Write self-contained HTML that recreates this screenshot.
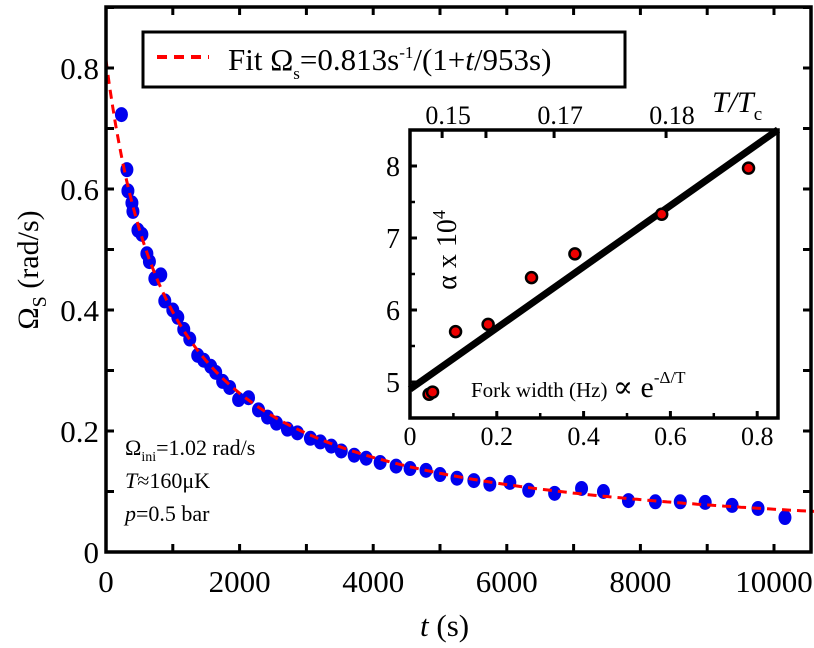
<!DOCTYPE html>
<html><head><meta charset="utf-8"><style>
html,body{margin:0;padding:0;background:#fff;font-family:'Liberation Serif','Times New Roman',Times,'DejaVu Serif',serif;}
svg{display:block;font-family:'Liberation Serif','Times New Roman',Times,'DejaVu Serif',serif;}
text,tspan{font-family:'Liberation Serif','Times New Roman',Times,'DejaVu Serif',serif;}
</style></head><body>
<svg id="chart" width="814" height="648" viewBox="0 0 814 648" xmlns="http://www.w3.org/2000/svg" font-family="Liberation Serif">
<g id="main"></g>
<g id="inset"></g>
</svg>
<script>
const tVals=[231,313,328,388,403,478,537,612,650,731,820,880,1000,1075,1164,1254,1373,1463,1567,1642,1746,1851,1985,2134,2283,2418,2552,2716,2866,3060,3209,3373,3522,3716,3895,4104,4343,4552,4791,5000,5254,5507,5746,6045,6328,6716,7119,7447,7821,8224,8597,8970,9373,9761,10164];
const omegaVals=[0.723,0.632,0.597,0.577,0.563,0.532,0.525,0.493,0.48,0.452,0.458,0.415,0.40,0.388,0.368,0.352,0.325,0.317,0.307,0.297,0.282,0.272,0.252,0.255,0.235,0.223,0.213,0.203,0.197,0.188,0.182,0.175,0.167,0.16,0.155,0.148,0.142,0.138,0.135,0.128,0.122,0.118,0.112,0.115,0.102,0.097,0.105,0.10,0.085,0.083,0.083,0.082,0.077,0.072,0.057];
const xTicks=[0,2000,4000,6000,8000,10000];
const yTicks=[0,0.2,0.4,0.6,0.8];
const fitA=0.813, fitTau=953;
const forkX=[0.044,0.052,0.105,0.18,0.28,0.38,0.58,0.78];
const alphaVals=[4.83,4.86,5.7,5.8,6.45,6.78,7.33,7.97];
const lineIntercept=4.9, lineSlope=4.25;
const insetXTicks=[0,0.2,0.4,0.6,0.8];
const insetYTicks=[5,6,7,8];
const topTickLabels=["0.15","0.17","0.18"];
const topTickPos=[0.074,0.332,0.59];
const topMinorPos=[0.175];

const NS="http://www.w3.org/2000/svg";
function mk(tag,attrs,parent,text){const e=document.createElementNS(NS,tag);for(const k in attrs)e.setAttribute(k,attrs[k]);if(tag==='text')e.setAttribute('font-family','Liberation Serif');if(text!==undefined)e.textContent=text;parent.appendChild(e);return e;}
const main=document.getElementById('main');


const L=106,R=811,T=7,B=552;
const sx=t=>L+t*0.0668;
const sy=v=>B-v*605;
let d="";
for(let t=0;t<=10600;t+=50){d+=(t?"L":"M")+sx(t).toFixed(1)+","+sy(fitA/(1+t/fitTau)).toFixed(1);}
tVals.forEach((t,i)=>{const c=mk('ellipse',{cx:sx(t),cy:sy(omegaVals[i]),rx:6.5,ry:7.5,fill:'#0000ee'},main);

});
const fit=mk('path',{d:d,fill:'none',stroke:'#ff0000','stroke-width':3,'stroke-dasharray':'9,6'},main);


for(let t=0;t<=10000;t+=1000){const x=sx(t);mk('line',{x1:x,y1:B,x2:x,y2:B-8,stroke:'#000','stroke-width':3},main);mk('line',{x1:x,y1:T,x2:x,y2:T+8,stroke:'#000','stroke-width':3},main);}
for(let v=0;v<=0.9;v+=0.1){const y=sy(v);mk('line',{x1:L,y1:y,x2:L+8,y2:y,stroke:'#000','stroke-width':3},main);mk('line',{x1:R,y1:y,x2:R-8,y2:y,stroke:'#000','stroke-width':3},main);}
xTicks.forEach(t=>{const e=mk('text',{x:sx(t),y:592,'font-size':31,'text-anchor':'middle'},main,String(t));

});
yTicks.forEach(v=>{const e=mk('text',{x:L-7,y:sy(v)+11,'font-size':31,'text-anchor':'end'},main,v===0?"0":v.toFixed(1));

});
const frame=mk('rect',{x:L,y:T,width:R-L,height:B-T,fill:'none',stroke:'#000','stroke-width':3.5},main);



const ins=document.getElementById('inset');


const iL=410,iR=778,iT=130,iB=418;
const ix=f=>iL+f*434;
const iy=a=>382-(a-5)*72;
mk('rect',{x:iL,y:iT,width:iR-iL,height:iB-iT,fill:'#fff',stroke:'none'},ins);
insetXTicks.forEach(f=>{mk('line',{x1:ix(f),y1:iB,x2:ix(f),y2:iB-7,stroke:'#000','stroke-width':3},ins);
const e=mk('text',{x:ix(f),y:445,'font-size':26,'text-anchor':'middle'},ins,f===0?"0":f.toFixed(1));

});
[0.1,0.3,0.5,0.7].forEach(f=>mk('line',{x1:ix(f),y1:iB,x2:ix(f),y2:iB-5,stroke:'#000','stroke-width':2.5},ins));
insetYTicks.forEach(a=>{mk('line',{x1:iL,y1:iy(a),x2:iL+7,y2:iy(a),stroke:'#000','stroke-width':3},ins);
const e=mk('text',{x:iL-10,y:iy(a)+10,'font-size':28,'text-anchor':'end'},ins,String(a));

});
[5.5,6.5,7.5].forEach(a=>mk('line',{x1:iL,y1:iy(a),x2:iL+5,y2:iy(a),stroke:'#000','stroke-width':2.5},ins));
topTickPos.concat(topMinorPos).forEach(f=>mk('line',{x1:ix(f),y1:iT,x2:ix(f),y2:iT+8,stroke:'#000','stroke-width':3},ins));
topTickLabels.forEach((s,i)=>{const e=mk('text',{x:ix(topTickPos[i])+6,y:124,'font-size':26,'text-anchor':'middle'},ins,s);

});
const xEnd=(iR-iL)/434;
const fl=mk('line',{x1:ix(0),y1:iy(lineIntercept),x2:ix(xEnd),y2:iy(lineIntercept+lineSlope*xEnd),stroke:'#000','stroke-width':7},ins);


forkX.forEach((f,i)=>{const c=mk('circle',{cx:ix(f),cy:iy(alphaVals[i]),r:5.5,fill:'#ee0000',stroke:'#000','stroke-width':2.5},ins);

});
const ifr=mk('rect',{x:iL,y:iT,width:iR-iL,height:iB-iT,fill:'none',stroke:'#000','stroke-width':3.5},ins);


</script>
<svg style="position:absolute;left:0;top:0" width="814" height="648" viewBox="0 0 814 648" xmlns="http://www.w3.org/2000/svg" font-family="Liberation Serif">
<g>
<rect x="143" y="32" width="482" height="55" fill="#fff" stroke="#000" stroke-width="3"/>
<line x1="157" y1="57" x2="209" y2="57" stroke="#ff0000" stroke-width="4" stroke-dasharray="10,7"/>
<text x="228" y="70" font-size="31" font-family="Liberation Serif">Fit Ω<tspan font-size="17" dy="9">s</tspan><tspan dy="-9">=0.813s</tspan><tspan font-size="17" dy="-12">-1</tspan><tspan dy="12">/(1+</tspan><tspan font-style="italic">t</tspan>/953s)</text>
</g>
<text font-family="Liberation Serif" transform="translate(38,270) rotate(-90)" font-size="30" text-anchor="middle">Ω<tspan font-size="20" dy="8">S</tspan><tspan dy="-8"> (rad/s)</tspan></text>
<text font-family="Liberation Serif" x="420" y="636" font-size="31"><tspan font-style="italic">t</tspan>  (s)</text>
<g font-size="22" font-family="Liberation Serif">
<text x="125" y="455">Ω<tspan font-size="14" dy="6">ini</tspan><tspan dy="-6">=1.02 rad/s</tspan></text>
<text x="125" y="488"><tspan font-style="italic">T</tspan>≈160μK</text>
<text x="125" y="521"><tspan font-style="italic">p</tspan>=0.5 bar</text>
</g>
<text font-family="Liberation Serif" transform="translate(456,250) rotate(-90)" font-size="28" text-anchor="middle">α x 10<tspan font-size="18" dy="-11">4</tspan></text>
<text font-family="Liberation Serif" x="471" y="397" font-size="21">Fork width (Hz) <tspan font-size="30">∝ e</tspan><tspan font-size="17" dy="-14">-Δ/T</tspan></text>
<text font-family="Liberation Serif" x="712" y="112" font-size="30" font-style="italic">T/T<tspan font-style="normal" font-size="19" dy="8">c</tspan></text>
</svg>
</body></html>
